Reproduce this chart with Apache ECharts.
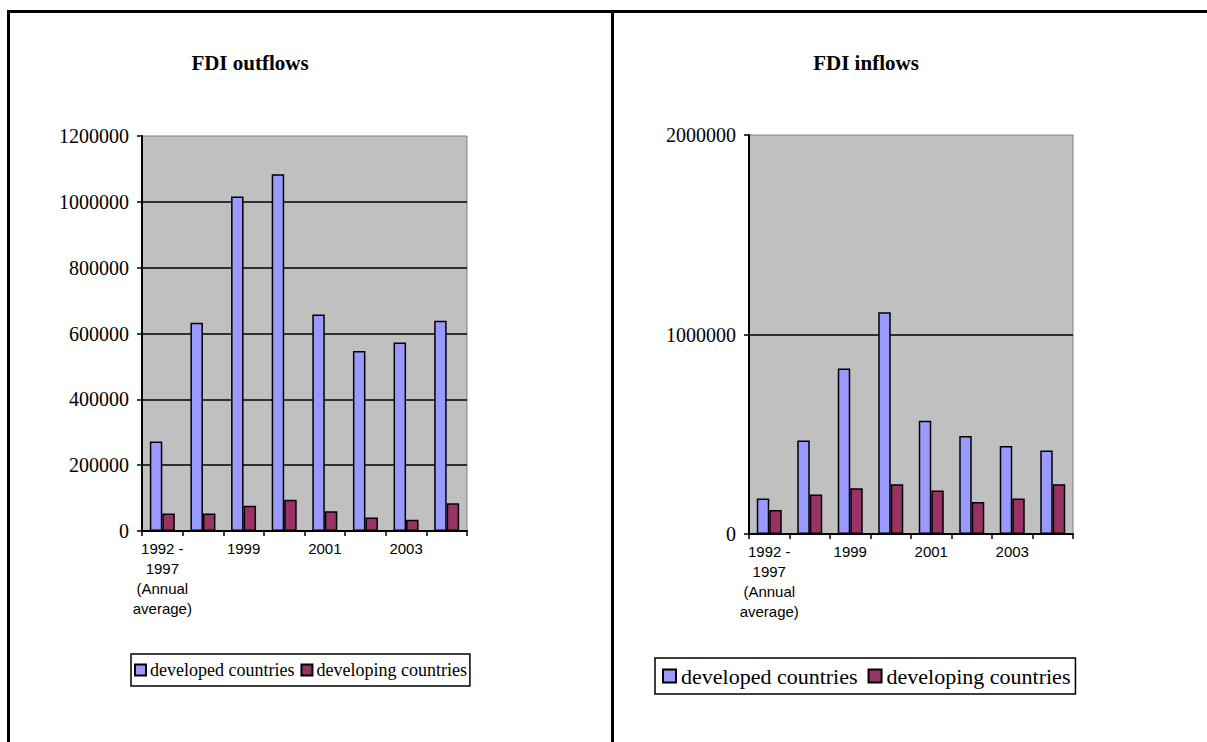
<!DOCTYPE html>
<html>
<head>
<meta charset="utf-8">
<script src="https://cdn.jsdelivr.net/npm/echarts@6/dist/echarts.min.js"></script>
<style>
html,body{margin:0;padding:0;background:#fff;}
#chart{width:1207px;height:742px;}
</style>
</head>
<body>
<div id="chart"></div>
<script>
// ---- data ----
const categories = ['1992 - 1997 (Annual average)', '1998', '1999', '2000', '2001', '2002', '2003', '2004'];
const categoryLabels = ['1992 -\n1997\n(Annual\naverage)', '1998', '1999', '2000', '2001', '2002', '2003', '2004'];
const seriesNames = ['developed countries', 'developing countries'];
const outflowsDeveloped = [272000, 633000, 1016000, 1084000, 658000, 547000, 573000, 639000];
const outflowsDeveloping = [53000, 53000, 77000, 95000, 60000, 41000, 34000, 84000];
const inflowsDeveloped = [178000, 469000, 830000, 1111000, 568000, 491000, 441000, 419000];
const inflowsDeveloping = [120000, 198000, 229000, 249000, 218000, 160000, 178000, 249000];
const outflowsAxis = {min: 0, max: 1200000, interval: 200000};
const inflowsAxis = {min: 0, max: 2000000, interval: 1000000};
const titles = ['FDI outflows', 'FDI inflows'];

const colors = ['#9999FF', '#993366'];
const serif = 'Liberation Serif, Times New Roman, serif';
const sans = 'Liberation Sans, Arial, sans-serif';

const chart = echarts.init(document.getElementById('chart'), null, {renderer: 'svg'});

function xAxis(gridIndex) {
  return {
    type: 'category', gridIndex, data: categories,
    axisLine: {lineStyle: {color: '#000', width: 2}},
    axisTick: {show: true, interval: 0, length: 5, lineStyle: {color: '#000', width: 1.5}},
    axisLabel: {
      interval: 1, margin: 7, color: '#000', fontFamily: sans, fontSize: 15, lineHeight: 20,
      formatter: (v, i) => categoryLabels[i]
    },
    splitLine: {show: false}
  };
}
function yAxis(gridIndex, ax) {
  return {
    type: 'value', gridIndex, min: ax.min, max: ax.max, interval: ax.interval,
    axisLine: {show: true, lineStyle: {color: '#000', width: 2}},
    axisTick: {show: true, length: 5, lineStyle: {color: '#000', width: 1.5}},
    axisLabel: {margin: 13, color: '#000', fontFamily: serif, fontSize: 20, formatter: v => String(v)},
    splitLine: {show: true, showMaxLine: false, lineStyle: {color: '#000', width: 1.5}}
  };
}
function bar(name, data, idx, color) {
  return {
    type: 'bar', name, data, xAxisIndex: idx, yAxisIndex: idx,
    barWidth: 12.5, barGap: '0%',
    itemStyle: {color, borderColor: '#000', borderWidth: 1.5},
    emphasis: {disabled: true}, animation: false
  };
}
function frameLine(x1, y1, x2, y2) {
  return {type: 'line', shape: {x1, y1, x2, y2}, style: {stroke: '#000', lineWidth: 3}, z: 100};
}

chart.setOption({
  backgroundColor: '#fff',
  animation: false,
  grid: [
    {left: 142, top: 136, width: 325, height: 395, show: true, backgroundColor: '#C0C0C0', borderColor: '#808080', borderWidth: 1},
    {left: 749, top: 135, width: 324, height: 399, show: true, backgroundColor: '#C0C0C0', borderColor: '#808080', borderWidth: 1}
  ],
  xAxis: [xAxis(0), xAxis(1)],
  yAxis: [yAxis(0, outflowsAxis), yAxis(1, inflowsAxis)],
  legend: [
    {
      data: seriesNames, left: 131, top: 654, orient: 'horizontal',
      borderColor: '#000', borderWidth: 1.5, padding: [7, 3, 7, 3],
      itemWidth: 11, itemHeight: 11, itemGap: 6, icon: 'rect',
      textStyle: {fontFamily: serif, fontSize: 18, color: '#000', padding: [0, 0, 0, -1]}
    },
    {
      data: seriesNames, left: 655, top: 658, orient: 'horizontal',
      borderColor: '#000', borderWidth: 1.5, padding: [7, 5, 7, 7],
      itemWidth: 13, itemHeight: 13, itemGap: 10, icon: 'rect',
      textStyle: {fontFamily: serif, fontSize: 22, color: '#000'}
    }
  ],
  series: [
    bar(seriesNames[0], outflowsDeveloped, 0, colors[0]),
    bar(seriesNames[1], outflowsDeveloping, 0, colors[1]),
    bar(seriesNames[0], inflowsDeveloped, 1, colors[0]),
    bar(seriesNames[1], inflowsDeveloping, 1, colors[1])
  ],
  graphic: [
    frameLine(7, 11.5, 1207, 11.5),
    frameLine(8.5, 10, 8.5, 742),
    frameLine(612.5, 10, 612.5, 742),
    {type: 'text', x: 250, y: 63, style: {text: titles[0], textAlign: 'center', textVerticalAlign: 'middle', font: 'bold 21px ' + serif, fill: '#000'}},
    {type: 'text', x: 866, y: 63, style: {text: titles[1], textAlign: 'center', textVerticalAlign: 'middle', font: 'bold 21px ' + serif, fill: '#000'}}
  ]
});
</script>
</body>
</html>
